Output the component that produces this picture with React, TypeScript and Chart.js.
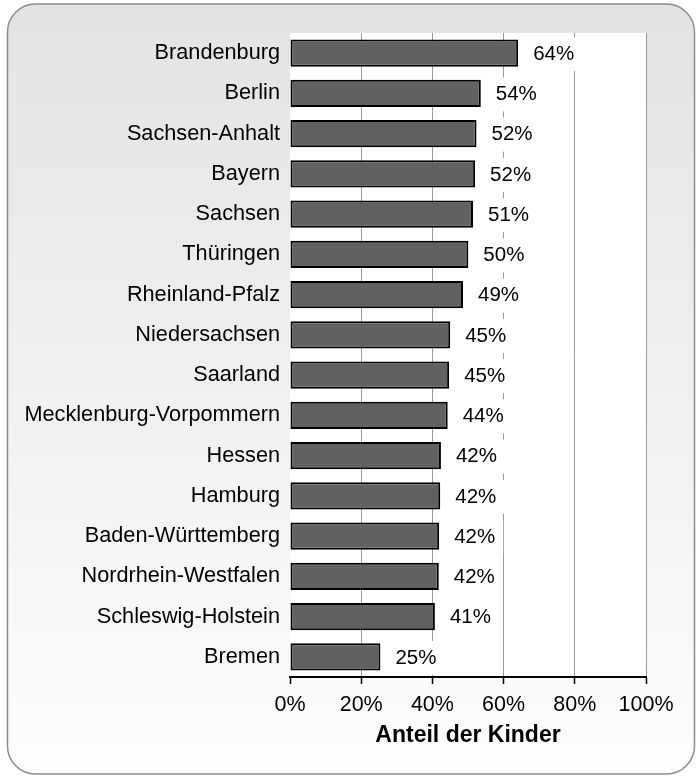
import React, { useEffect, useRef } from "react";
import { Chart, registerables } from "chart.js";

Chart.register(...registerables);

const categories = [
  "Brandenburg",
  "Berlin",
  "Sachsen-Anhalt",
  "Bayern",
  "Sachsen",
  "Thüringen",
  "Rheinland-Pfalz",
  "Niedersachsen",
  "Saarland",
  "Mecklenburg-Vorpommern",
  "Hessen",
  "Hamburg",
  "Baden-Württemberg",
  "Nordrhein-Westfalen",
  "Schleswig-Holstein",
  "Bremen",
];

const shares = [64.1, 53.6, 52.4, 52.0, 51.4, 50.1, 48.6, 45.0, 44.7, 44.3, 42.4, 42.2, 41.9, 41.8, 40.7, 25.4];

const xTicks = [0, 20, 40, 60, 80, 100];
const axisTitle = "Anteil der Kinder";

const FONT = "'Liberation Sans', Arial, sans-serif";

const framePlugin = {
  id: "frame",
  beforeDraw(chart: any) {
    const ctx = chart.ctx;
    const x0 = 7.5, y0 = 4, x1 = 694.5, y1 = 774, r = 28;
    ctx.save();
    ctx.beginPath();
    ctx.moveTo(x0 + r, y0);
    ctx.lineTo(x1 - r, y0);
    ctx.arcTo(x1, y0, x1, y0 + r, r);
    ctx.lineTo(x1, y1 - r);
    ctx.arcTo(x1, y1, x1 - r, y1, r);
    ctx.lineTo(x0 + r, y1);
    ctx.arcTo(x0, y1, x0, y1 - r, r);
    ctx.lineTo(x0, y0 + r);
    ctx.arcTo(x0, y0, x0 + r, y0, r);
    ctx.closePath();
    const g = ctx.createLinearGradient(0, y0, 0, y1);
    g.addColorStop(0, "#e3e3e3");
    g.addColorStop(1, "#fdfdfd");
    ctx.fillStyle = g;
    ctx.fill();
    ctx.lineWidth = 1.5;
    ctx.strokeStyle = "#8c8c8c";
    ctx.stroke();
    const a = chart.chartArea;
    ctx.fillStyle = "#ffffff";
    ctx.fillRect(a.left, a.top, a.right - a.left, a.bottom - a.top);
    ctx.restore();
  },
};

const labelPlugin = {
  id: "valueLabels",
  afterDatasetsDraw(chart: any) {
    const ctx = chart.ctx;
    const meta = chart.getDatasetMeta(0);
    ctx.save();
    ctx.font = `20.5px ${FONT}`;
    ctx.textBaseline = "middle";
    ctx.textAlign = "left";
    meta.data.forEach((bar: any, i: number) => {
      const text = Math.round(shares[i]) + "%";
      const w = ctx.measureText(text).width;
      const tx = bar.x + 15;
      const cy = bar.y + 1;
      ctx.fillStyle = "#ffffff";
      ctx.fillRect(tx - 8, cy - 17, w + 16, 34);
      ctx.fillStyle = "#000000";
      ctx.fillText(text, tx, cy);
    });
    ctx.restore();
  },
};

export default function App() {
  const ref = useRef<HTMLCanvasElement | null>(null);

  useEffect(() => {
    document.body.style.margin = "0";
    const canvas = ref.current;
    if (!canvas) return;
    const chart = new Chart(canvas, {
      type: "bar",
      data: {
        labels: categories,
        datasets: [
          {
            data: shares,
            backgroundColor: "#616161",
            borderColor: "#000000",
            borderWidth: 2,
            borderSkipped: false,
            categoryPercentage: 1,
            barPercentage: 0.68,
          },
        ],
      },
      options: {
        indexAxis: "y",
        responsive: false,
        animation: false,
        layout: { padding: { top: 33, right: 54, bottom: 0, left: 0 } },
        plugins: {
          legend: { display: false },
          tooltip: { enabled: false },
        },
        scales: {
          x: {
            min: 0,
            max: 100,
            afterBuildTicks: (s: any) => {
              s.ticks = xTicks.map((v) => ({ value: v }));
            },
            afterFit: (s: any) => {
              s.height = 103;
            },
            ticks: {
              callback: (v: any) => v + "%",
              color: "#000000",
              font: { family: FONT, size: 21.5 },
              padding: 8,
              maxRotation: 0,
            },
            grid: {
              color: (c: any) => (c.tick && c.tick.value === 0 ? "rgba(0,0,0,0)" : "#9a9a9a"),
              lineWidth: 1,
              tickColor: "#000000",
              tickLength: 7,
              tickWidth: 1.5,
            },
            border: { display: true, color: "#000000", width: 2 },
            title: {
              display: true,
              text: axisTitle,
              color: "#000000",
              font: { family: FONT, size: 23, weight: "bold" },
              padding: { top: 10, bottom: 31 },
            },
          },
          y: {
            afterFit: (s: any) => {
              s.width = 290;
            },
            ticks: {
              color: "#000000",
              font: { family: FONT, size: 21.7 },
              padding: 2,
            },
            grid: { display: false },
            border: { display: false },
          },
        },
      },
      plugins: [framePlugin, labelPlugin],
    });
    return () => chart.destroy();
  }, []);

  return (
    <div style={{ width: 700, height: 780 }}>
      <canvas ref={ref} width={700} height={780} style={{ display: "block", width: 700, height: 780 }} />
    </div>
  );
}
